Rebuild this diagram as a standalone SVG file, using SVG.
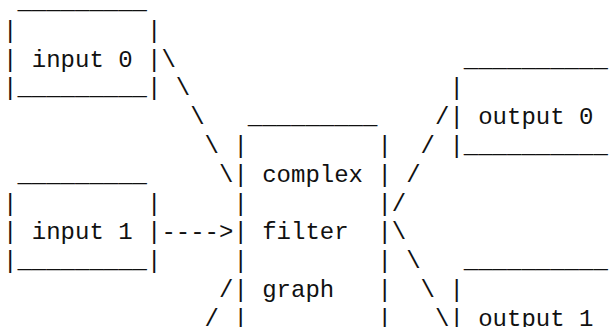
<svg xmlns="http://www.w3.org/2000/svg" width="614" height="327" viewBox="0 0 614 327" xml:space="preserve">
<style>
text { font-family: "Liberation Mono", "Courier New", monospace; font-size: 24px; white-space: pre; fill: #111; }
</style>
<rect width="614" height="327" fill="#ffffff"/>
<g id="input0">
<text x="17.4" y="9">_________</text>
<text x="3" y="37.8">|         |</text>
<text x="3" y="66.6">| input 0 |</text>
<text x="3" y="95.4">|_________|</text>
</g>
<g id="input1">
<text x="17.4" y="181.8">_________</text>
<text x="3" y="210.6">|         |</text>
<text x="3" y="239.4">| input 1 |</text>
<text x="3" y="268.2">|_________|</text>
</g>
<g id="filtergraph">
<text x="247.8" y="124.2">_________</text>
<text x="233.4" y="153">|         |</text>
<text x="233.4" y="181.8">| complex |</text>
<text x="233.4" y="210.6">|         |</text>
<text x="233.4" y="239.4">| filter  |</text>
<text x="233.4" y="268.2">|         |</text>
<text x="233.4" y="297">| graph   |</text>
<text x="233.4" y="325.8">|         |</text>
</g>
<g id="output0">
<text x="463.8" y="66.6">__________</text>
<text x="449.4" y="95.4">|</text>
<text x="449.4" y="124.2">| output 0</text>
<text x="449.4" y="153">|__________</text>
</g>
<g id="output1">
<text x="463.8" y="268.2">__________</text>
<text x="449.4" y="297">|</text>
<text x="449.4" y="325.8">| output 1</text>
</g>
<g id="connectors">
<text x="161.4" y="66.6">\</text>
<text x="175.8" y="95.4">\</text>
<text x="190.2" y="124.2">\</text>
<text x="204.6" y="153">\</text>
<text x="219" y="181.8">\</text>
<text x="161.4" y="239.4">----&gt;</text>
<text x="219" y="297">/</text>
<text x="204.6" y="325.8">/</text>
<text x="435" y="124.2">/</text>
<text x="420.6" y="153">/</text>
<text x="406.2" y="181.8">/</text>
<text x="391.8" y="210.6">/</text>
<text x="391.8" y="239.4">\</text>
<text x="406.2" y="268.2">\</text>
<text x="420.6" y="297">\</text>
<text x="435" y="325.8">\</text>
</g>
</svg>
